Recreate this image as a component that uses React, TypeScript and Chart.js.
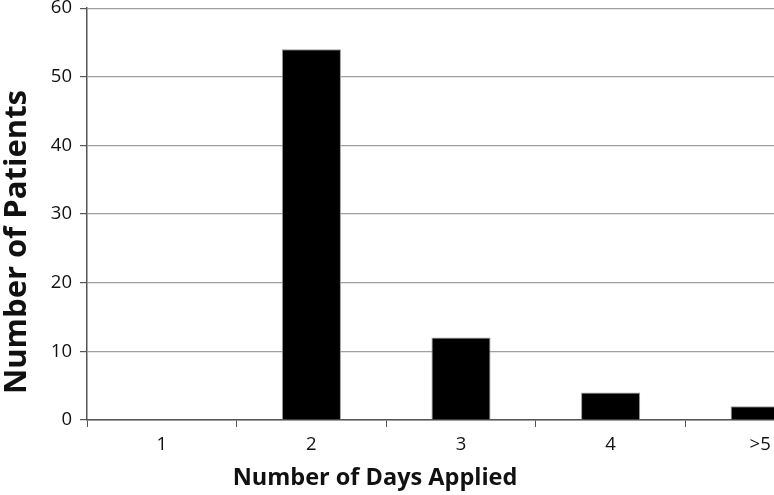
import React, { useEffect, useRef } from "react";
import { Chart, registerables } from "chart.js";

Chart.register(...registerables);

const categories = ["1", "2", "3", "4", ">5"];
const patients = [0, 54, 12, 4, 2];
const yTicks = [0, 10, 20, 30, 40, 50, 60];
const xTitle = "Number of Days Applied";
const yTitle = "Number of Patients";

const FONT = "'Open Sans', Lato, sans-serif";
const SHIFT = 11;

const titlePlugin = {
  id: "axisTitles",
  afterDraw(chart: any) {
    const ctx = chart.ctx;
    ctx.save();
    ctx.fillStyle = "#111";
    ctx.textAlign = "center";
    ctx.textBaseline = "middle";
    ctx.font = `bold 23.5px ${FONT}`;
    ctx.fillText(xTitle, 375, 478 + SHIFT);
    ctx.font = `bold 31px ${FONT}`;
    ctx.translate(17, 242 + SHIFT);
    ctx.rotate(-Math.PI / 2);
    ctx.fillText(yTitle, 0, 0);
    ctx.restore();
  },
};

export default function App() {
  const ref = useRef<HTMLCanvasElement>(null);
  useEffect(() => {
    if (!ref.current) return;
    const chart = new Chart(ref.current, {
      type: "bar",
      data: {
        labels: categories,
        datasets: [
          {
            data: patients,
            backgroundColor: "#000",
            borderColor: "#9a9a9a",
            borderWidth: 1,
            categoryPercentage: 1,
            barPercentage: 0.395,
          },
        ],
      },
      options: {
        animation: false,
        responsive: false,
        maintainAspectRatio: false,
        layout: { padding: { top: 0, right: 0, left: 0, bottom: 0 } },
        plugins: { legend: { display: false }, tooltip: { enabled: false } },
        scales: {
          x: {
            afterFit: (s: any) => {
              s.height = 75;
            },
            grid: {
              display: true,
              drawOnChartArea: false,
              drawTicks: true,
              tickLength: 7,
              tickColor: "#555",
              offset: true,
            },
            border: { display: true, color: "#555", width: 1.5 },
            ticks: {
              color: "#111",
              font: { family: FONT, size: 18.5 },
              padding: 7,
            },
          },
          y: {
            min: 0,
            max: 60,
            afterFit: (s: any) => {
              s.width = 87;
            },
            afterBuildTicks: (s: any) => {
              s.ticks = yTicks.map((v) => ({ value: v }));
            },
            grid: {
              color: "#a0a0a0",
              lineWidth: 1.2,
              drawTicks: true,
              tickLength: 7,
              tickColor: "#555",
            },
            border: { display: true, color: "#555", width: 1.5 },
            ticks: {
              color: "#111",
              font: { family: FONT, size: 18.5 },
              padding: 8,
            },
          },
        },
      },
      plugins: [titlePlugin],
    });
    return () => chart.destroy();
  }, []);
  return (
    <div
      style={{
        position: "fixed",
        left: 0,
        top: 0,
        width: 774,
        height: 495,
        overflow: "hidden",
        background: "#fff",
      }}
    >
      <canvas
        ref={ref}
        width={835}
        height={495 + SHIFT}
        style={{ display: "block", marginTop: -SHIFT }}
      />
    </div>
  );
}
